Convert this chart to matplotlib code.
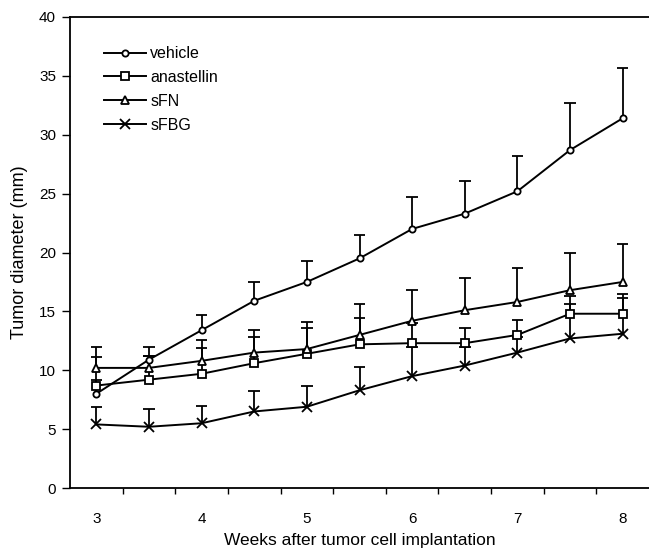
import numpy as np
import matplotlib
matplotlib.use("Agg")
import matplotlib.pyplot as plt

plt.rcParams['font.family'] = ['Liberation Sans', 'DejaVu Sans']

# semaines apres implantation
weeks = [3, 3.5, 4, 4.5, 5, 5.5, 6, 6.5, 7, 7.5, 8]

# moyennes (mm)
vehicle = [8.0, 10.9, 13.4, 15.9, 17.5, 19.5, 22.0, 23.3, 25.2, 28.7, 31.4]
anastellin = [8.7, 9.2, 9.7, 10.6, 11.4, 12.2, 12.3, 12.3, 13.0, 14.8, 14.8]
sfn = [10.2, 10.2, 10.8, 11.5, 11.8, 13.0, 14.2, 15.1, 15.8, 16.8, 17.5]
sfbg = [5.4, 5.2, 5.5, 6.5, 6.9, 8.3, 9.5, 10.4, 11.5, 12.7, 13.1]

# haut des barres d'erreur
vehicle_top = [11.1, 12.0, 14.7, 17.5, 19.3, 21.5, 24.7, 26.1, 28.2, 32.7, 35.7]
anastellin_top = [9.2, 11.2, 11.9, 12.8, 13.6, 14.4, 14.0, 13.6, 14.3, 16.3, 16.5]
sfn_top = [12.0, 11.2, 12.6, 13.4, 14.1, 15.6, 16.8, 17.8, 18.7, 20.0, 20.7]
sfbg_top = [6.9, 6.7, 7.0, 8.2, 8.7, 10.3, 12.0, 12.0, 12.8, 15.6, 16.1]

series = [
    ("vehicle", vehicle, vehicle_top, "o", 4.5),
    ("anastellin", anastellin, anastellin_top, "s", 6),
    ("sFN", sfn, sfn_top, "^", 6),
    ("sFBG", sfbg, sfbg_top, "x", 7),
]

fig = plt.figure(figsize=(6.49, 5.57), dpi=100)
ax = fig.add_axes([70 / 649, 1 - 488 / 557, 579 / 649, 471 / 557])

x = np.array(weeks)
cap = 0.055
for name, vals, tops, mk, ms in series:
    ax.vlines(x, vals, tops, color="black", lw=1.3, zorder=2)
    ax.hlines(tops, x - cap, x + cap, color="black", lw=1.3, zorder=2)
for name, vals, tops, mk, ms in series:
    ax.plot(x, vals, color="black", lw=1.4, marker=mk, markersize=ms,
            markerfacecolor="white", markeredgecolor="black",
            markeredgewidth=1.3, label=name, zorder=3)

ax.set_xlim(2.75, 8.25)
ax.set_ylim(0, 40)
ax.set_xticks([3, 4, 5, 6, 7, 8])
ax.set_xticks(np.arange(3.25, 8.25, 0.5), minor=True)
ax.set_yticks(range(0, 41, 5))
ax.tick_params(axis="x", which="major", length=0, pad=17, labelsize=11)
ax.tick_params(axis="x", which="minor", length=4, width=1, direction="out")
ax.tick_params(axis="y", length=6, width=1, direction="out", labelsize=11, pad=4)
ax.spines["right"].set_visible(False)
for s in ["left", "bottom", "top"]:
    ax.spines[s].set_linewidth(1.3)

ax.set_xlabel("Weeks after tumor cell implantation", fontsize=12.5, labelpad=5)
ax.set_ylabel("Tumor diameter (mm)", fontsize=13, labelpad=8)

ax.legend(loc="upper left", bbox_to_anchor=(0.045, 0.955), frameon=False,
          handlelength=2.6, labelspacing=0.55, fontsize=11.5, borderpad=0,
          handletextpad=0.3)

plt.savefig("out.png", dpi=100)
